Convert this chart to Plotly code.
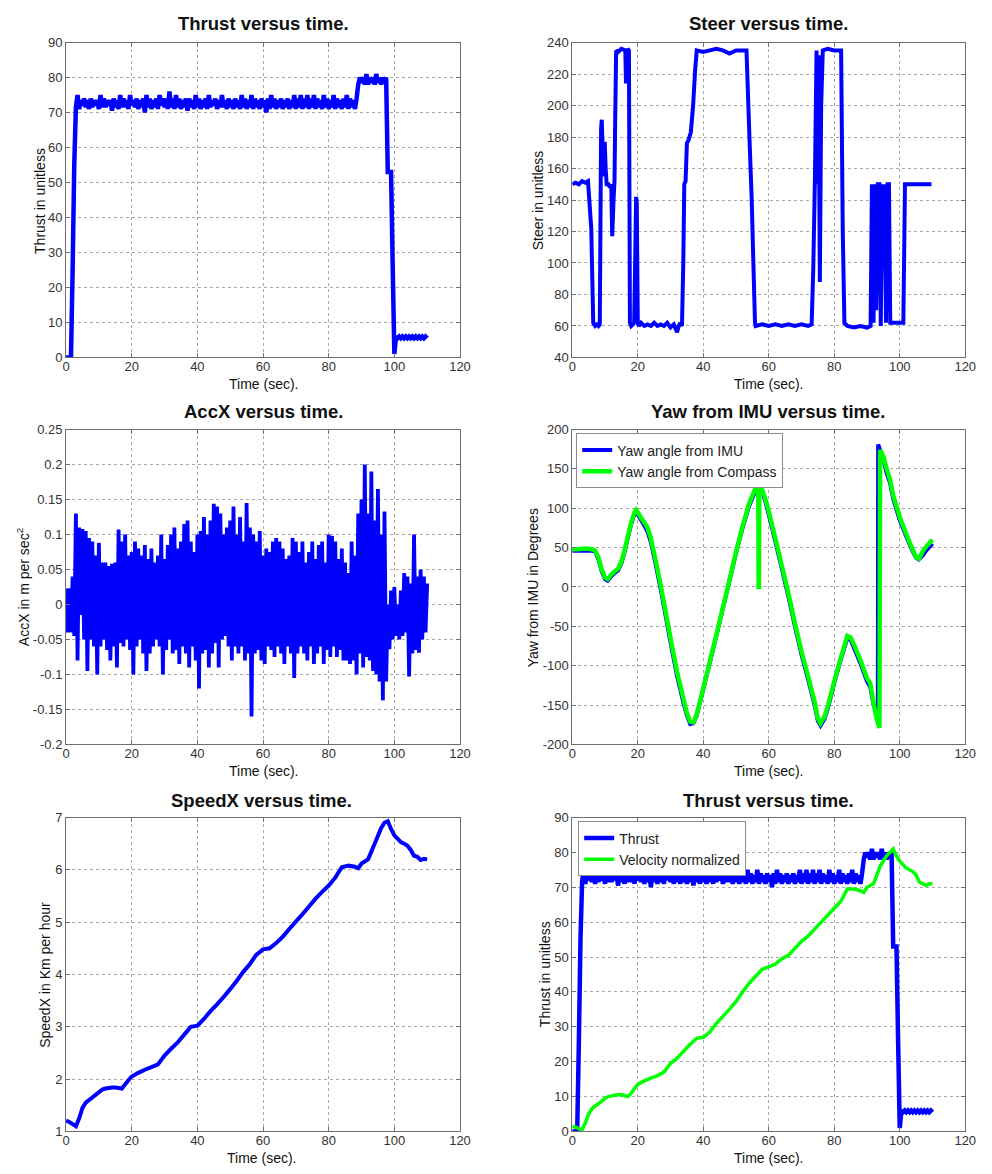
import plotly.graph_objects as go

W, H = 992, 1174
BLUE = "#0000ff"
GREEN = "#00ff00"
FONT = "Liberation Sans, Arial, sans-serif"

# ---------------- data ----------------
time_ticks = [0, 20, 40, 60, 80, 100, 120]
thrust_ticks = [0, 10, 20, 30, 40, 50, 60, 70, 80, 90]
steer_ticks = [40, 60, 80, 100, 120, 140, 160, 180, 200, 220, 240]
accx_ticks = [-0.2, -0.15, -0.1, -0.05, 0, 0.05, 0.1, 0.15, 0.2, 0.25]
accx_labels = ["-0.2", "-0.15", "-0.1", "-0.05", "0", "0.05", "0.1", "0.15", "0.2", "0.25"]
yaw_ticks = [-200, -150, -100, -50, 0, 50, 100, 150, 200]
yaw_labels = ["-200", "-150", "-100", "-50", "0", "50", "100", "150", "200"]
speed_ticks = [1, 2, 3, 4, 5, 6, 7]

# Thrust, one sample every 0.5 s from t = 0 s
THRUST_DT = 0.5
thrust_values = [
    0, 0, 0, 0, 25, 55,
    71.5, 75, 71, 73.5, 72, 74, 71.5, 73.5, 71, 74,
    71.5, 73.5, 72, 73.5, 71, 75, 71.5, 74, 71.5, 73.5,
    72, 73.5, 70.5, 74, 71.5, 73.5, 71, 75, 71.5, 74,
    71.5, 73.5, 71, 75, 72, 73.5, 71.5, 74, 71, 73.5,
    71.5, 74, 70, 75, 71.5, 74, 71, 73.5, 71.5, 74,
    71, 75, 72, 74, 71.5, 74, 71, 76, 71.5, 74,
    71, 75, 71.5, 74, 71, 73.5, 71.5, 74, 70.5, 74,
    71.5, 73.5, 71, 75, 71.5, 74, 71, 73.5, 71.5, 74,
    71, 75, 71.5, 73.5, 72, 74, 71, 73.5, 71.5, 75,
    71.5, 73.5, 71, 74, 71.5, 73.5, 71, 74, 71.5, 73.5,
    71, 75, 71.5, 74, 71, 73.5, 71.5, 75, 71, 74,
    71.5, 73.5, 71, 74, 71.5, 73.5, 70, 74, 71, 75,
    71.5, 74, 71, 73.5, 71.5, 74, 71, 73.5, 71.5, 74,
    71, 73.5, 71.5, 75, 71, 74, 71.5, 75, 71, 74,
    71.5, 75, 71, 74, 71.5, 75, 71, 74, 71.5, 73.5,
    71, 75, 71.5, 74, 71, 73.5, 71.5, 75, 71, 74,
    71.5, 73.5, 71, 74, 71.5, 75, 71, 74, 71.5, 73.5,
    71, 74,
    78, 80, 78.5, 80, 78, 81, 78, 80, 78.5, 80, 78, 81, 78.5, 80, 78, 80, 78.5, 80,
    53, 53, 53, 26, 1, 6,
    5.5, 6, 5.5, 6, 5.5, 6, 5.5, 6, 5.5, 6, 5.5, 6, 5.5, 6, 5.5, 6, 5.5, 6, 5.5,
]
thrust_time = [i * THRUST_DT for i in range(len(thrust_values))]

# Steer
steer_time = [0, 1, 2, 3, 4, 4.8, 5.2, 5.8, 6.4, 7, 7.5, 8, 8.4, 8.8, 9.0, 9.3, 9.6, 9.9,
              10.2, 10.5, 11, 11.5, 11.9, 12.2, 12.6, 12.9, 13.1, 13.4, 14, 15, 16.2, 16.4,
              16.9, 17.3, 17.6, 18, 18.5, 18.9, 19.2, 19.5, 19.7, 20.0, 20.3, 21, 22, 23, 24,
              25, 26, 27, 28, 29, 30, 31, 32, 32.5, 33, 33.5, 33.9, 34.2, 34.6, 35.0, 35.5,
              36.2, 36.9, 37.5, 38, 40, 42, 44, 46, 48, 50, 52, 53.2, 54.1, 54.8, 55.3, 55.8,
              56, 58, 60, 62, 64, 66, 68, 70, 72, 73.1, 73.6, 74.1, 74.6, 74.9, 75.2, 75.6,
              76.0, 76.5, 78, 80, 82.1, 82.6, 83.1, 84, 86, 88, 90, 91.1, 91.5, 92.0, 92.4,
              92.8, 93.3, 93.8, 94.2, 94.7, 95.0, 95.4, 95.8, 96.3, 96.7, 97.1, 98, 100,
              101.1, 101.6, 104, 109.7]
steer_values = [150, 151, 150, 152, 151, 152, 140, 122, 62, 60, 61, 60, 61, 185, 191, 170, 155, 177,
                160, 150, 150, 148, 150, 117, 140, 152, 190, 235, 234, 236, 235, 214,
                236, 235, 62, 60, 61, 62, 100, 142, 138, 62, 60, 62, 60, 61, 60,
                62, 60, 61, 60, 62, 59, 61, 56, 60, 62, 60, 100, 150, 152, 176, 178,
                183, 200, 222, 235, 234, 235, 236, 235, 233, 235, 235, 235, 180, 140, 100, 62,
                60, 61, 60, 61, 60, 61, 60, 61, 60, 61, 97, 154, 235, 150, 232, 88,
                200, 235, 236, 235, 235, 120, 62, 60, 59, 60, 59, 60, 150, 62, 150,
                70, 150, 150, 60, 150, 110, 150, 62, 150, 150, 62, 62, 62,
                62, 150, 150, 150]

# AccX: upper peaks at whole seconds, lower troughs at half seconds
accx_high = [0.023, 0.023, 0.04, 0.13, 0.11, 0.108, 0.105, 0.095, 0.09, 0.07,
             0.088, 0.06, 0.06, 0.055, 0.058, 0.06, 0.107, 0.09, 0.1, 0.07,
             0.075, 0.09, 0.08, 0.07, 0.085, 0.065, 0.08, 0.06, 0.07, 0.1,
             0.065, 0.085, 0.1, 0.11, 0.08, 0.09, 0.115, 0.12, 0.09, 0.075,
             0.1, 0.105, 0.125, 0.1, 0.12, 0.144, 0.14, 0.13, 0.1, 0.11,
             0.12, 0.14, 0.1, 0.125, 0.09, 0.145, 0.11, 0.1, 0.09, 0.105,
             0.07, 0.08, 0.075, 0.09, 0.095, 0.09, 0.08, 0.065, 0.07, 0.095,
             0.09, 0.075, 0.09, 0.06, 0.075, 0.09, 0.065, 0.085, 0.09, 0.06,
             0.1, 0.098, 0.09, 0.065, 0.08, 0.06, 0.045, 0.09, 0.07, 0.13,
             0.15, 0.2, 0.13, 0.19, 0.12, 0.165, 0.1, 0.133, 0.0, 0.02,
             0.025, 0.0, 0.02, 0.045, 0.04, 0.03, 0.1, 0.04, 0.05, 0.04, 0.03]
accx_low = [-0.04, -0.04, -0.045, -0.08, -0.015, -0.05, -0.095, -0.05, -0.06, -0.1,
            -0.06, -0.05, -0.065, -0.08, -0.06, -0.09, -0.055, -0.06, -0.05, -0.065,
            -0.1, -0.06, -0.05, -0.07, -0.095, -0.07, -0.06, -0.05, -0.06, -0.1,
            -0.065, -0.05, -0.07, -0.065, -0.085, -0.06, -0.07, -0.09, -0.06, -0.08,
            -0.12, -0.07, -0.065, -0.09, -0.07, -0.055, -0.09, -0.05, -0.045, -0.06,
            -0.08, -0.06, -0.07, -0.06, -0.08, -0.07, -0.16, -0.07, -0.065, -0.08,
            -0.085, -0.06, -0.065, -0.075, -0.06, -0.07, -0.085, -0.06, -0.07, -0.105,
            -0.07, -0.06, -0.07, -0.08, -0.06, -0.085, -0.07, -0.06, -0.085, -0.065,
            -0.075, -0.06, -0.075, -0.065, -0.08, -0.08, -0.085, -0.08, -0.1, -0.07,
            -0.09, -0.075, -0.08, -0.095, -0.1, -0.11, -0.137, -0.11, -0.064, -0.05,
            -0.045, -0.05, -0.045, -0.04, -0.103, -0.07, -0.065, -0.069, -0.05, -0.04]
accx_time = []
accx_values = []
for i, hv in enumerate(accx_high):
    accx_time.append(float(i))
    accx_values.append(hv)
    if i < len(accx_low):
        accx_time.append(i + 0.5)
        accx_values.append(accx_low[i])

# Yaw from IMU
imu_time = [0, 2, 4, 6, 7, 8, 9, 10, 10.8, 12, 13, 14, 15, 16, 17, 18, 19, 19.5, 20, 21, 22, 23,
            24, 25, 26, 27, 28, 30, 32, 34, 35, 36, 37, 38, 40, 42, 44, 46, 48, 50, 52, 54, 56,
            57, 58, 59, 60, 62, 64, 66, 68, 70, 72, 74, 75, 75.8, 77, 78, 80, 82, 84, 85, 86,
            88, 90, 91, 92, 93.3, 93.4, 94, 95, 96, 97, 98, 100, 102, 104, 105, 105.8, 107,
            108, 110]
imu_yaw = [46, 46, 46, 46, 45, 35, 20, 10, 8, 14, 18, 21, 30, 45, 63, 80, 93, 96, 92, 85, 78, 70,
           57, 38, 18, -3, -25, -70, -113, -148, -163, -174, -173, -163, -130, -96, -62, -27, 8,
           43, 75, 103, 123, 127, 121, 108, 92, 58, 23, -12, -50, -86, -117, -150, -170, -176,
           -168, -155, -122, -92, -65, -67, -77, -97, -120, -127, -150, -162, 181, 174, 162,
           145, 133, 112, 85, 64, 45, 37, 35, 40, 46, 55]
# Yaw from compass
compass_time = [0, 2, 4, 6, 7, 8, 9, 10, 10.8, 12, 13, 14, 15, 16, 17, 18, 19, 19.5, 20, 21, 22,
                23, 24, 25, 26, 27, 28, 30, 32, 34, 35, 36, 37, 38, 40, 42, 44, 46, 48, 50, 52,
                54, 56, 56.8, 56.9, 57.0, 57.1, 57.6, 58, 59, 60, 62, 64, 66, 68, 70, 72, 74, 75,
                75.8, 77, 78, 80, 82, 84, 85, 86, 88, 90, 91, 92, 93, 93.8, 94.0, 95, 96, 97, 98,
                100, 102, 104, 105, 105.8, 107, 108, 110]
compass_yaw = [48, 48, 49, 48, 46, 37, 22, 12, 10, 16, 20, 23, 32, 47, 65, 82, 95, 98, 95, 88, 82,
               75, 62, 43, 23, 2, -20, -65, -108, -143, -160, -171, -172, -162, -129, -95, -61,
               -26, 9, 44, 77, 106, 126, 128, 0, 0, 127, 130, 124, 111, 96, 62, 27, -8, -46, -82,
               -113, -146, -167, -173, -165, -152, -120, -90, -62, -64, -73, -93, -116, -122,
               -148, -168, -179, 174, 166, 150, 137, 116, 89, 67, 47, 38, 36, 45, 51, 60]

# SpeedX
speed_time = [0, 1, 2, 3, 4, 5, 6, 7, 8, 9, 10, 11, 12, 13, 14, 15, 16, 17, 18, 19, 20, 22, 24,
              26, 28, 30, 32, 34, 36, 38, 40, 42, 44, 46, 48, 50, 52, 54, 56, 58, 60, 62, 64, 66,
              68, 70, 72, 74, 76, 78, 80, 82, 84, 86, 88, 89, 90, 92, 94, 96, 97, 98, 99, 100,
              102, 103, 104, 105, 106, 107, 108, 109, 110]
speed_kmh = [1.21, 1.18, 1.14, 1.1, 1.25, 1.45, 1.55, 1.6, 1.65, 1.7, 1.75, 1.8, 1.82, 1.83, 1.84,
             1.84, 1.83, 1.82, 1.9, 1.98, 2.05, 2.12, 2.18, 2.23, 2.28, 2.45, 2.58, 2.7, 2.85,
             3.0, 3.02, 3.15, 3.3, 3.43, 3.57, 3.72, 3.88, 4.05, 4.2, 4.38, 4.48, 4.5, 4.6, 4.72,
             4.87, 5.01, 5.15, 5.3, 5.45, 5.58, 5.7, 5.85, 6.05, 6.08, 6.06, 6.03, 6.12, 6.2,
             6.5, 6.8, 6.9, 6.93, 6.78, 6.66, 6.53, 6.5, 6.46, 6.38, 6.27, 6.25, 6.19, 6.21, 6.2]

# Velocity normalized
velnorm_time = [0, 1, 2, 3, 4, 5, 6, 7, 8, 9, 10, 11, 12, 13, 14, 15, 16, 17, 18, 19, 20, 22, 24,
                26, 28, 30, 32, 34, 36, 38, 40, 42, 44, 46, 48, 50, 52, 54, 56, 58, 60, 62, 64,
                66, 68, 70, 72, 74, 76, 78, 80, 82, 84, 86, 88, 89, 90, 92, 94, 96, 97, 98, 99,
                100, 102, 104, 105, 106, 107, 108, 109, 110]
velnorm_values = [1.5, 1.2, 0.8, 0.5, 2.5, 5, 6.5, 7.3, 8, 8.7, 9.5, 10, 10.2, 10.4, 10.5, 10.5,
                  10.3, 10, 11, 12.3, 13.5, 14.5, 15.3, 16, 17, 19.5, 21, 23, 25, 26.7, 27, 28.5,
                  31, 33, 35, 37.3, 40, 42.5, 44.5, 46.5, 47.2, 48, 49.5, 50.5, 52.5, 54.5, 56,
                  58, 60, 62, 64, 66, 69.5, 69.5, 69, 68.5, 70, 71, 76, 79, 80, 81, 79, 77.5,
                  75.5, 74.5, 73.5, 71.5, 71, 70.5, 71, 71]

# ---------------- layout helpers ----------------
def px_x(p):
    return p / W

def px_y(p):
    return 1 - p / H

cols = {"L": (63, 463), "R": (577, 976)}
rows = {1: (36, 355), 2: (428, 747), 3: (821, 1139)}

AX = dict(showline=True, linecolor="#6e6e6e", linewidth=1, mirror="ticks",
          ticks="inside", ticklen=4, tickcolor="#6e6e6e",
          showgrid=True, gridcolor="#a8a8a8", griddash="dot", gridwidth=1,
          zeroline=False, fixedrange=True,
          tickfont=dict(family=FONT, size=13, color="#333333"))

fig = go.Figure()
layout = dict(width=W, height=H, margin=dict(l=0, r=0, t=0, b=0),
              paper_bgcolor="white", plot_bgcolor="white",
              font=dict(family=FONT, color="#222222"), annotations=[])

panels = [
    # (axis no, col, row, y range, y ticks, y tick text)
    (1, "L", 1, [0, 90], thrust_ticks, None),
    (2, "R", 1, [40, 240], steer_ticks, None),
    (3, "L", 2, [-0.2, 0.25], accx_ticks, accx_labels),
    (4, "R", 2, [-200, 200], yaw_ticks, yaw_labels),
    (5, "L", 3, [1, 7], speed_ticks, None),
    (6, "R", 3, [0, 90], thrust_ticks, None),
]
for n, c, r, yr, yt, ytt in panels:
    x0, x1 = cols[c]
    y0, y1 = rows[r]
    sfx = "" if n == 1 else str(n)
    xa = dict(AX, domain=[px_x(x0), px_x(x1)], range=[0, 120], tickvals=time_ticks,
              anchor="y" + sfx, ticklabelstandoff=-3)
    ya = dict(AX, domain=[px_y(y1), px_y(y0)], range=yr, tickvals=yt, anchor="x" + sfx)
    if ytt is not None:
        ya["ticktext"] = ytt
    layout["xaxis" + sfx] = xa
    layout["yaxis" + sfx] = ya

def add_line(n, x, y, color, name, width=3.5, legend=None):
    sfx = "" if n == 1 else str(n)
    kw = dict(x=x, y=y, mode="lines", name=name,
              line=dict(color=color, width=width, simplify=False),
              xaxis="x" + sfx, yaxis="y" + sfx, hoverinfo="skip")
    if legend is None:
        kw["showlegend"] = False
    else:
        kw["legend"] = legend
    fig.add_trace(go.Scatter(**kw))

add_line(1, thrust_time, thrust_values, BLUE, "Thrust", 4.5)
add_line(2, steer_time, steer_values, BLUE, "Steer", 4)
add_line(3, accx_time, accx_values, BLUE, "AccX", 3.8)
add_line(4, imu_time, imu_yaw, BLUE, "Yaw angle from IMU", 4, "legend")
add_line(4, compass_time, compass_yaw, GREEN, "Yaw angle from Compass", 4.5, "legend")
add_line(5, speed_time, speed_kmh, BLUE, "SpeedX", 4)
add_line(6, thrust_time, thrust_values, BLUE, "Thrust", 4.5, "legend2")
add_line(6, velnorm_time, velnorm_values, GREEN, "Velocity normalized", 3.5, "legend2")

LEG = dict(bgcolor="white", bordercolor="#8c8c8c", borderwidth=1,
           font=dict(family=FONT, size=14, color="#222222"), itemwidth=30,
           xanchor="left", yanchor="top", tracegroupgap=0)
layout["legend"] = dict(LEG, x=px_x(581), y=px_y(432))
layout["legend2"] = dict(LEG, x=px_x(583), y=px_y(825))

def note(text, x, y, size=14, bold=False, angle=0):
    layout["annotations"].append(dict(
        text=("<b>%s</b>" % text) if bold else text, x=px_x(x), y=px_y(y),
        xref="paper", yref="paper", showarrow=False, xanchor="center", yanchor="middle",
        textangle=angle, font=dict(family=FONT, size=size, color="#111111")))

TS = 18.5
# subplot titles
note("Thrust versus time.", 263, 17, TS, True)
note("Steer versus time.", 776, 17, TS, True)
note("AccX versus time.", 263, 410, TS, True)
note("Yaw from IMU versus time.", 776, 410, TS, True)
note("SpeedX versus time.", 261, 804, TS, True)
note("Thrust versus time.", 776, 804, TS, True)
# x-axis titles
for cx, cy in [(263, 382), (776, 382), (263, 774), (776, 774), (261, 1166), (776, 1166)]:
    note("Time (sec).", cx, cy)
# y-axis titles
note("Thrust in unitless", 37, 196, angle=-90)
note("Steer in unitless", 543, 196, angle=-90)
note("AccX in m per sec<sup>2</sup>", 20, 588, angle=-90)
note("Yaw from IMU in Degrees", 538, 588, angle=-90)
note("SpeedX in Km per hour", 42, 980, angle=-90)
note("Thrust in unitless", 550, 980, angle=-90)

fig.update_layout(**layout)
fig.write_html("out.html")
